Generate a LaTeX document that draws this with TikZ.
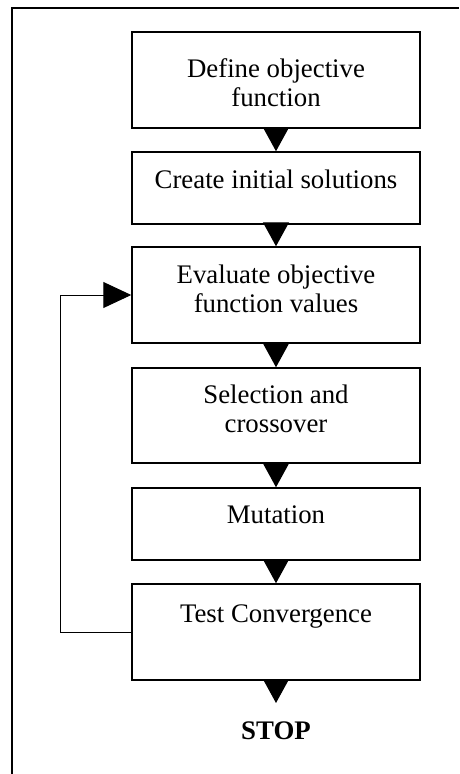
\documentclass[tikz,border=0pt]{standalone}
\usepackage{fontspec}
\setmainfont{Liberation Serif}
\usetikzlibrary{arrows.meta}
\begin{document}
\begin{tikzpicture}[x=1pt,y=-1pt,
  box/.style={draw,line width=1.5pt,minimum width=288pt,inner sep=0pt},
  txt/.style={anchor=base,inner sep=0pt,font=\fontsize{26.8pt}{29pt}\selectfont},
  flow/.style={line width=1.2pt,-{Triangle[length=24pt,width=26pt]}},
  back/.style={line width=1pt,-{Triangle[length=28pt,width=26pt]}}]
\useasboundingbox (0,0) rectangle (459,774);
% frame
\coordinate (fa) at (12,774);
\coordinate (fb) at (12,8);
\coordinate (fc) at (459,8);
\draw[line width=1.5pt] (fa) -- (fb) -- (fc);
% boxes
\node[box,minimum height=96pt] (b1) at (276,80) {};
\node[box,minimum height=72pt] (b2) at (276,188) {};
\node[box,minimum height=96pt] (b3) at (276,295) {};
\node[box,minimum height=95pt] (b4) at (276,415.5) {};
\node[box,minimum height=72pt] (b5) at (276,524) {};
\node[box,minimum height=96pt] (b6) at (276,632) {};
% texts
\node[txt] (t1a) at (276,77) {Define objective};
\node[txt] (t1b) at (276,106) {function};
\node[txt] (t2) at (276,188) {Create initial solutions};
\node[txt] (t3a) at (276,283) {Evaluate objective};
\node[txt] (t3b) at (276,312) {function values};
\node[txt] (t4a) at (276,403) {Selection and};
\node[txt] (t4b) at (276,432) {crossover};
\node[txt] (t5) at (276,523) {Mutation};
\node[txt] (t6) at (276,622) {Test Convergence};
\node[txt,font=\fontsize{26.8pt}{29pt}\selectfont\bfseries] (stop) at (276,739) {STOP};
\coordinate (stoptop) at (276,703);
% arrows
\draw[flow] (b1.south) -- (b2.north);
\draw[flow] (b2.south) -- (b3.north);
\draw[flow] (b3.south) -- (b4.north);
\draw[flow] (b4.south) -- (b5.north);
\draw[flow] (b5.south) -- (b6.north);
\draw[flow] (b6.south) -- (stoptop);
\coordinate (lp) at (60,632);
\draw[back] (b6.west) -- (lp) |- (b3.west);
\end{tikzpicture}
\end{document}
